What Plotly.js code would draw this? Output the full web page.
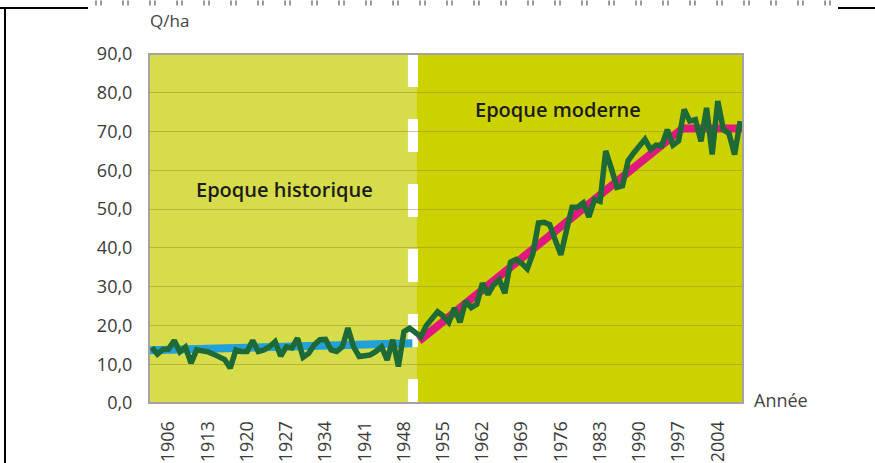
<!DOCTYPE html>
<html>
<head>
<meta charset="utf-8">
<script src="https://cdn.plot.ly/plotly-3.0.1.min.js"></script>
<style>
html,body{margin:0;padding:0;background:#fff;}
#chart{width:875px;height:463px;}
</style>
</head>
<body>
<div id="chart"></div>
<script>
// ---- data ----
const years = [1903,1904,1905,1906,1907,1908,1909,1910,1911,1912,1913,1914,1915,1916,1917,1918,1919,1920,
  1921,1922,1923,1924,1925,1926,1927,1928,1929,1930,1931,1932,1933,1934,1935,1936,1937,1938,1939,1940,
  1941,1942,1943,1944,1945,1946,1947,1948,1949,1950,1951,1952,1953,1954,1955,1956,1957,1958,1959,1960,
  1961,1962,1963,1964,1965,1966,1967,1968,1969,1970,1971,1972,1973,1974,1975,1976,1977,1978,1979,1980,
  1981,1982,1983,1984,1985,1986,1987,1988,1989,1990,1991,1992,1993,1994,1995,1996,1997,1998,1999,2000,
  2001,2002,2003,2004,2005,2006,2007,2008];
const yields = [14.3,12.6,13.8,13.9,16.1,13.2,14.4,10.3,13.7,13.6,13.2,12.6,11.8,11.2,9.0,13.7,13.3,13.3,
  16.1,13.3,13.7,14.5,15.8,12.1,14.5,14.2,16.7,11.8,12.8,15.0,16.3,16.4,13.7,13.3,14.5,19.3,14.5,12.0,
  12.2,12.4,13.3,14.5,11.1,16.3,9.4,18.4,19.3,18.2,17.1,20.0,21.8,23.5,22.4,20.8,24.5,20.8,26.3,24.6,
  25.5,30.9,28.0,30.5,31.8,28.3,36.3,37.0,36.0,34.6,38.5,46.4,46.6,46.0,42.0,38.2,44.5,50.5,50.5,51.6,
  48.0,52.5,52.0,65.0,60.5,55.6,56.0,62.5,64.5,66.5,68.0,65.4,66.5,66.3,70.5,66.5,67.6,75.7,72.7,73.1,
  67.5,76.1,64.1,77.9,70.5,69.5,64.1,72.7];
const histTrendX = [1902.5, 1949.5];
const histTrendY = [13.6, 15.4];
const modTrendX = [1950.7, 1997.7, 2008.6];
const modTrendY = [16.0, 70.8, 70.8];
const tickYears = [1906,1913,1920,1927,1934,1941,1948,1955,1962,1969,1976,1983,1990,1997,2004];
const periodSplit = 1950.2;
const dashX = 1949.6;
const xRange = [1902.5, 2008.5];
const yRange = [0, 90];

// ---- layout helpers ----
const L = 149, R = 132, T = 54, B = 60, W = 875, H = 463;
const pw = W - L - R, ph = H - T - B;
const px = v => (v - L) / pw;
const py = v => (H - B - v) / ph;

const font = "'Open Sans', 'DejaVu Sans', sans-serif";

const traces = [
  {x: histTrendX, y: histTrendY, mode: 'lines', line: {color: '#22a0da', width: 8}, hoverinfo: 'skip'},
  {x: modTrendX, y: modTrendY, mode: 'lines+markers', line: {color: '#e0197f', width: 8},
   marker: {size: [0, 0, 8], color: '#e0197f'}, cliponaxis: false, hoverinfo: 'skip'},
  {x: years, y: yields, mode: 'lines', line: {color: '#1e6a36', width: 5.5, shape: 'linear'}}
];

const layout = {
  width: W, height: H,
  margin: {l: L, r: R, t: T, b: B, pad: 0},
  paper_bgcolor: '#ffffff',
  plot_bgcolor: 'rgba(0,0,0,0)',
  showlegend: false,
  separators: ', ',
  font: {family: font, size: 18, color: '#3a3a3a'},
  xaxis: {
    range: xRange, tickvals: tickYears, ticktext: tickYears.map(String),
    tickangle: -90, showgrid: false, zeroline: false, showline: false,
    ticks: 'outside', ticklen: 10, tickcolor: 'rgba(0,0,0,0)',
    tickfont: {family: font, size: 18, color: '#3a3a3a'}
  },
  yaxis: {
    range: yRange, dtick: 10, tick0: 0, tickformat: '.1f',
    showgrid: true, gridcolor: 'rgba(150,130,40,0.45)', gridwidth: 1,
    zeroline: false, showline: false,
    ticks: 'outside', ticklen: 12, tickcolor: 'rgba(0,0,0,0)',
    tickfont: {family: font, size: 18, color: '#3a3a3a'}
  },
  shapes: [
    {type: 'rect', xref: 'x', yref: 'paper', x0: xRange[0], x1: periodSplit, y0: 0, y1: 1,
     fillcolor: '#d7dd4a', line: {width: 0}, layer: 'below'},
    {type: 'rect', xref: 'x', yref: 'paper', x0: periodSplit, x1: xRange[1], y0: 0, y1: 1,
     fillcolor: '#cbd200', line: {width: 0}, layer: 'below'},
    {type: 'line', xref: 'x', yref: 'paper', x0: dashX, x1: dashX, y0: 1, y1: 0,
     line: {color: '#ffffff', width: 10, dash: '33px,32px'}, layer: 'below'},
    {type: 'rect', xref: 'paper', yref: 'paper', x0: 0, x1: 1, y0: 0, y1: 1,
     line: {color: '#a3a3a3', width: 2}, fillcolor: 'rgba(0,0,0,0)', layer: 'above'},
    // page border artefacts
    {type: 'line', xref: 'paper', yref: 'paper', x0: px(0), x1: px(88), y0: py(8), y1: py(8),
     line: {color: '#000', width: 2}},
    {type: 'line', xref: 'paper', yref: 'paper', x0: px(838), x1: px(875), y0: py(8), y1: py(8),
     line: {color: '#000', width: 2}},
    {type: 'line', xref: 'paper', yref: 'paper', x0: px(5), x1: px(5), y0: py(8), y1: py(463),
     line: {color: '#000', width: 2}},
    {type: 'line', xref: 'paper', yref: 'paper', x0: px(95), x1: px(832), y0: py(3), y1: py(3),
     line: {color: '#9a9a9a', width: 5, dash: '2px,3px,2px,20px'}}
  ],
  annotations: [
    {text: 'Q/ha', xref: 'paper', yref: 'paper', x: px(148), y: py(21), xanchor: 'left', yanchor: 'middle',
     showarrow: false, font: {family: font, size: 17, color: '#444'}},
    {text: 'Année', xref: 'paper', yref: 'paper', x: px(752), y: py(400), xanchor: 'left', yanchor: 'middle',
     showarrow: false, font: {family: font, size: 18, color: '#444'}},
    {text: 'Epoque historique', xref: 'x', yref: 'y', x: 1926.6, y: 55.0, xanchor: 'center', yanchor: 'middle',
     showarrow: false, font: {family: font, size: 20, color: '#1c1c1c', weight: 600}},
    {text: 'Epoque moderne', xref: 'x', yref: 'y', x: 1975.5, y: 75.7, xanchor: 'center', yanchor: 'middle',
     showarrow: false, font: {family: font, size: 20, color: '#1c1c1c', weight: 600}}
  ]
};

Plotly.newPlot('chart', traces, layout, {displayModeBar: false, staticPlot: true});
</script>
</body>
</html>
